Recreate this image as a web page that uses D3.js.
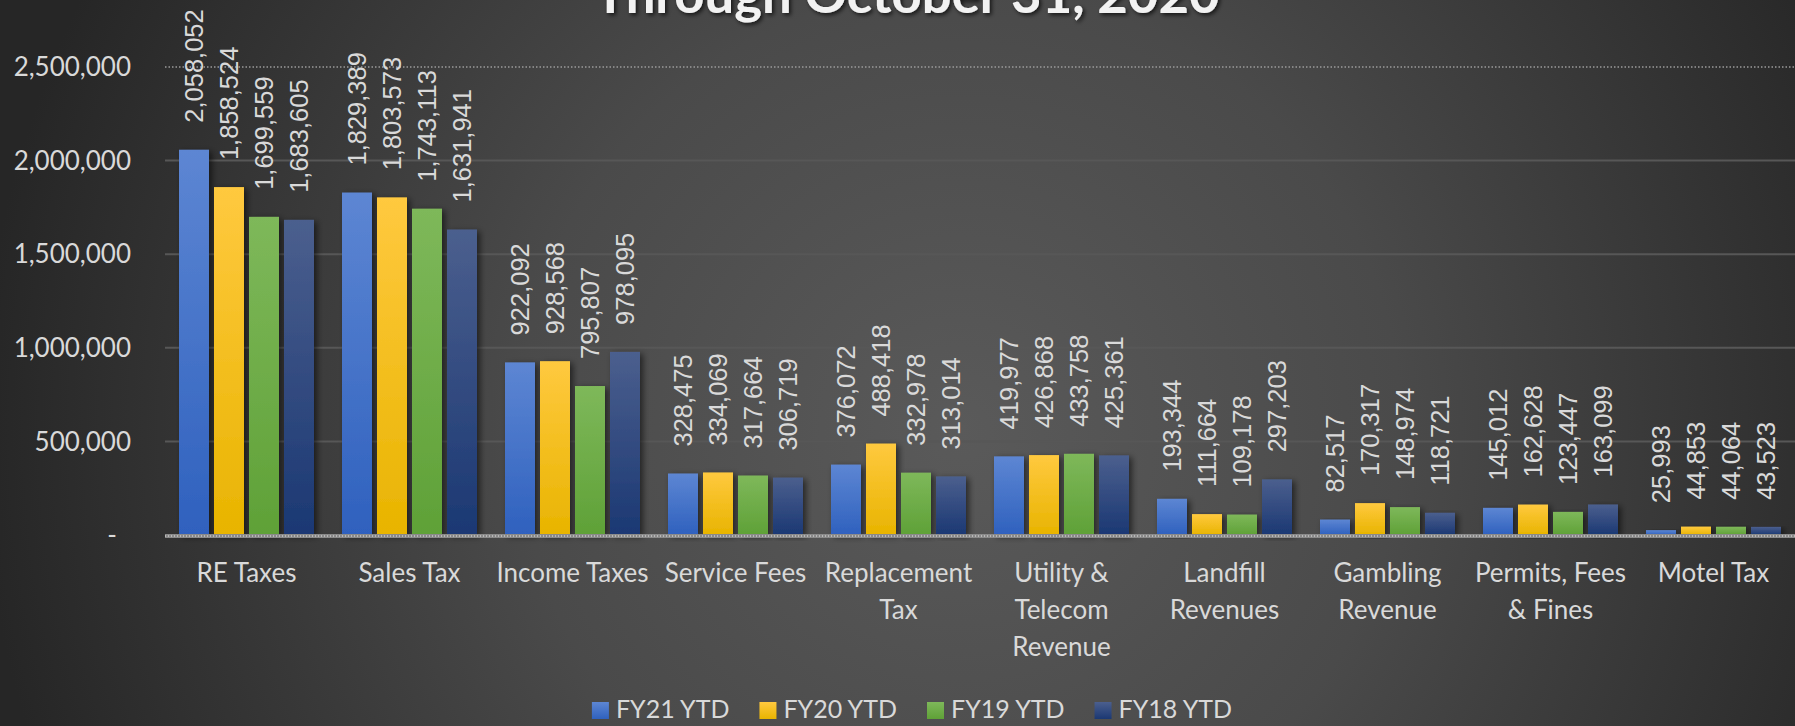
<!DOCTYPE html>
<html>
<head>
<meta charset="utf-8">
<script src="https://cdn.jsdelivr.net/npm/d3@7"></script>
<style>
  html, body { margin: 0; padding: 0; background: #2a2a2a; }
  svg { display: block; }
</style>
</head>
<body>
<svg id="chart" width="1795" height="726"></svg>
<script>
const categories = ["RE Taxes", "Sales Tax", "Income Taxes", "Service Fees", "Replacement Tax",
  "Utility & Telecom Revenue", "Landfill Revenues", "Gambling Revenue", "Permits, Fees & Fines", "Motel Tax"];
const categoryLines = [["RE Taxes"], ["Sales Tax"], ["Income Taxes"], ["Service Fees"], ["Replacement", "Tax"],
  ["Utility &", "Telecom", "Revenue"], ["Landfill", "Revenues"], ["Gambling", "Revenue"], ["Permits, Fees", "& Fines"], ["Motel Tax"]];
const seriesNames = ["FY21 YTD", "FY20 YTD", "FY19 YTD", "FY18 YTD"];
const fy21 = [2058052, 1829389, 922092, 328475, 376072, 419977, 193344, 82517, 145012, 25993];
const fy20 = [1858524, 1803573, 928568, 334069, 488418, 426868, 111664, 170317, 162628, 44853];
const fy19 = [1699559, 1743113, 795807, 317664, 332978, 433758, 109178, 148974, 123447, 44064];
const fy18 = [1683605, 1631941, 978095, 306719, 313014, 425361, 297203, 118721, 163099, 43523];
const yTicks = [0, 500000, 1000000, 1500000, 2000000, 2500000];
const titleText = "Through October 31, 2020";

const seriesValues = [fy21, fy20, fy19, fy18];
const colorsTop = ["#5d86d3", "#ffc93f", "#7eb85a", "#4b5f8e"];
const colorsBottom = ["#2f61be", "#e8b400", "#5fa137", "#1b3873"];

const W = 1795, H = 726;
const svg = d3.select("#chart");
const defs = svg.append("defs");

// background radial gradient
const bg = defs.append("radialGradient").attr("id", "bg")
  .attr("gradientUnits", "userSpaceOnUse")
  .attr("cx", 960).attr("cy", 430).attr("r", 980);
bg.append("stop").attr("offset", 0).attr("stop-color", "#5a5a5a");
bg.append("stop").attr("offset", 0.45).attr("stop-color", "#4a4a4a");
bg.append("stop").attr("offset", 1).attr("stop-color", "#262626");
svg.append("rect").attr("width", W).attr("height", H).attr("fill", "url(#bg)");

seriesNames.forEach((s, i) => {
  const g = defs.append("linearGradient").attr("id", "g" + i)
    .attr("x1", 0).attr("y1", 0).attr("x2", 0).attr("y2", 1);
  g.append("stop").attr("offset", 0).attr("stop-color", colorsTop[i]);
  g.append("stop").attr("offset", 1).attr("stop-color", colorsBottom[i]);
});

const sh = defs.append("filter").attr("id", "shadow")
  .attr("x", "-30%").attr("y", "-10%").attr("width", "160%").attr("height", "120%");
sh.append("feDropShadow").attr("dx", 3).attr("dy", 2).attr("stdDeviation", 3)
  .attr("flood-color", "#000").attr("flood-opacity", 0.55);

const tsh = defs.append("filter").attr("id", "tshadow")
  .attr("x", "-10%").attr("y", "-50%").attr("width", "120%").attr("height", "200%");
tsh.append("feDropShadow").attr("dx", 2).attr("dy", 2).attr("stdDeviation", 2)
  .attr("flood-color", "#000").attr("flood-opacity", 0.7);

const plotLeft = 165, plotRight = 1795;
const x0 = d3.scaleBand().domain(categories).range([plotLeft, plotRight])
  .paddingInner(28 / 163).paddingOuter(14 / 163);
const x1 = d3.scaleBand().domain(seriesNames).range([0, x0.bandwidth()]).paddingInner(5 / 35);
const y = d3.scaleLinear().domain([0, 2500000]).range([535, 67]);

// gridlines
const grid = svg.append("g");
yTicks.filter(t => t > 0 && t < 2500000).forEach(t => {
  grid.append("line").attr("x1", plotLeft).attr("x2", plotRight)
    .attr("y1", y(t)).attr("y2", y(t))
    .attr("stroke", "#575757").attr("stroke-width", 2);
});
grid.append("line").attr("x1", plotLeft).attr("x2", plotRight)
  .attr("y1", y(2500000)).attr("y2", y(2500000))
  .attr("stroke", "#9a9a9a").attr("stroke-width", 1.5).attr("stroke-dasharray", "1.5,2");

// y axis labels
const fmt = d3.format(",");
const yAxis = svg.append("g");
yTicks.forEach(t => {
  yAxis.append("text")
    .attr("x", t === 0 ? 117 : 131).attr("y", y(t)).attr("dy", "0.35em")
    .attr("text-anchor", "end")
    .attr("font-family", "Lato, sans-serif").attr("font-size", 26)
    .attr("fill", "#d9d9d9")
    .text(t === 0 ? "-" : fmt(t));
});

// bars
const groups = svg.append("g").selectAll("g").data(categories).join("g")
  .attr("transform", d => `translate(${x0(d)},0)`);
groups.each(function (cat, ci) {
  const g = d3.select(this);
  seriesNames.forEach((s, si) => {
    const v = seriesValues[si][ci];
    g.append("rect")
      .attr("x", x1(s)).attr("width", x1.bandwidth())
      .attr("y", y(v)).attr("height", y(0) - y(v))
      .attr("fill", `url(#g${si})`).attr("filter", "url(#shadow)");
  });
});

// baseline
svg.append("line").attr("x1", plotLeft).attr("x2", plotRight)
  .attr("y1", 536).attr("y2", 536).attr("stroke", "#8a8a8a").attr("stroke-width", 4);
svg.append("line").attr("x1", plotLeft).attr("x2", plotRight)
  .attr("y1", 536).attr("y2", 536).attr("stroke", "#b8b8b8").attr("stroke-width", 2)
  .attr("stroke-dasharray", "1,2");

// data labels
groups.each(function (cat, ci) {
  const g = d3.select(this);
  seriesNames.forEach((s, si) => {
    const v = seriesValues[si][ci];
    const cx = x1(s) + x1.bandwidth() / 2;
    const cy = y(v) - 27;
    g.append("text")
      .attr("transform", `translate(${cx},${cy}) rotate(-90)`)
      .attr("dy", "0.36em")
      .attr("font-family", "'Liberation Sans', Arial, sans-serif")
      .attr("font-size", 25.5)
      .attr("fill", "#d9d9d9")
      .text(fmt(v));
  });
});

// category labels
groups.each(function (cat, ci) {
  const g = d3.select(this);
  const t = g.append("text")
    .attr("text-anchor", "middle")
    .attr("font-family", "Lato, sans-serif").attr("font-size", 26)
    .attr("fill", "#d9d9d9");
  categoryLines[ci].forEach((line, li) => {
    t.append("tspan").attr("x", x0.bandwidth() / 2).attr("y", 582 + li * 37).text(line);
  });
});

// title (partially clipped at top, as in the original)
svg.append("text")
  .attr("x", 907).attr("y", 13)
  .attr("text-anchor", "middle")
  .attr("font-family", "Lato, sans-serif").attr("font-weight", "bold").attr("font-size", 52)
  .attr("textLength", 625).attr("lengthAdjust", "spacingAndGlyphs")
  .attr("fill", "#f2f2f2").attr("filter", "url(#tshadow)")
  .text(titleText);

// legend
const legend = svg.append("g");
const items = [];
seriesNames.forEach((s, i) => {
  const it = legend.append("g");
  it.append("rect").attr("x", 0).attr("y", 702).attr("width", 17).attr("height", 17)
    .attr("fill", `url(#g${i})`);
  const tx = it.append("text").attr("x", 24).attr("y", 718)
    .attr("font-family", "Lato, sans-serif").attr("font-size", 25)
    .attr("fill", "#d9d9d9").text(s);
  const w = 24 + tx.node().getComputedTextLength();
  items.push({ it, w });
});
const gap = 30;
const total = items.reduce((a, b) => a + b.w, 0) + gap * (items.length - 1);
let start = 912 - total / 2;
items.forEach(({ it, w }) => {
  it.attr("transform", `translate(${start},0)`);
  start += w + gap;
});
</script>
</body>
</html>
